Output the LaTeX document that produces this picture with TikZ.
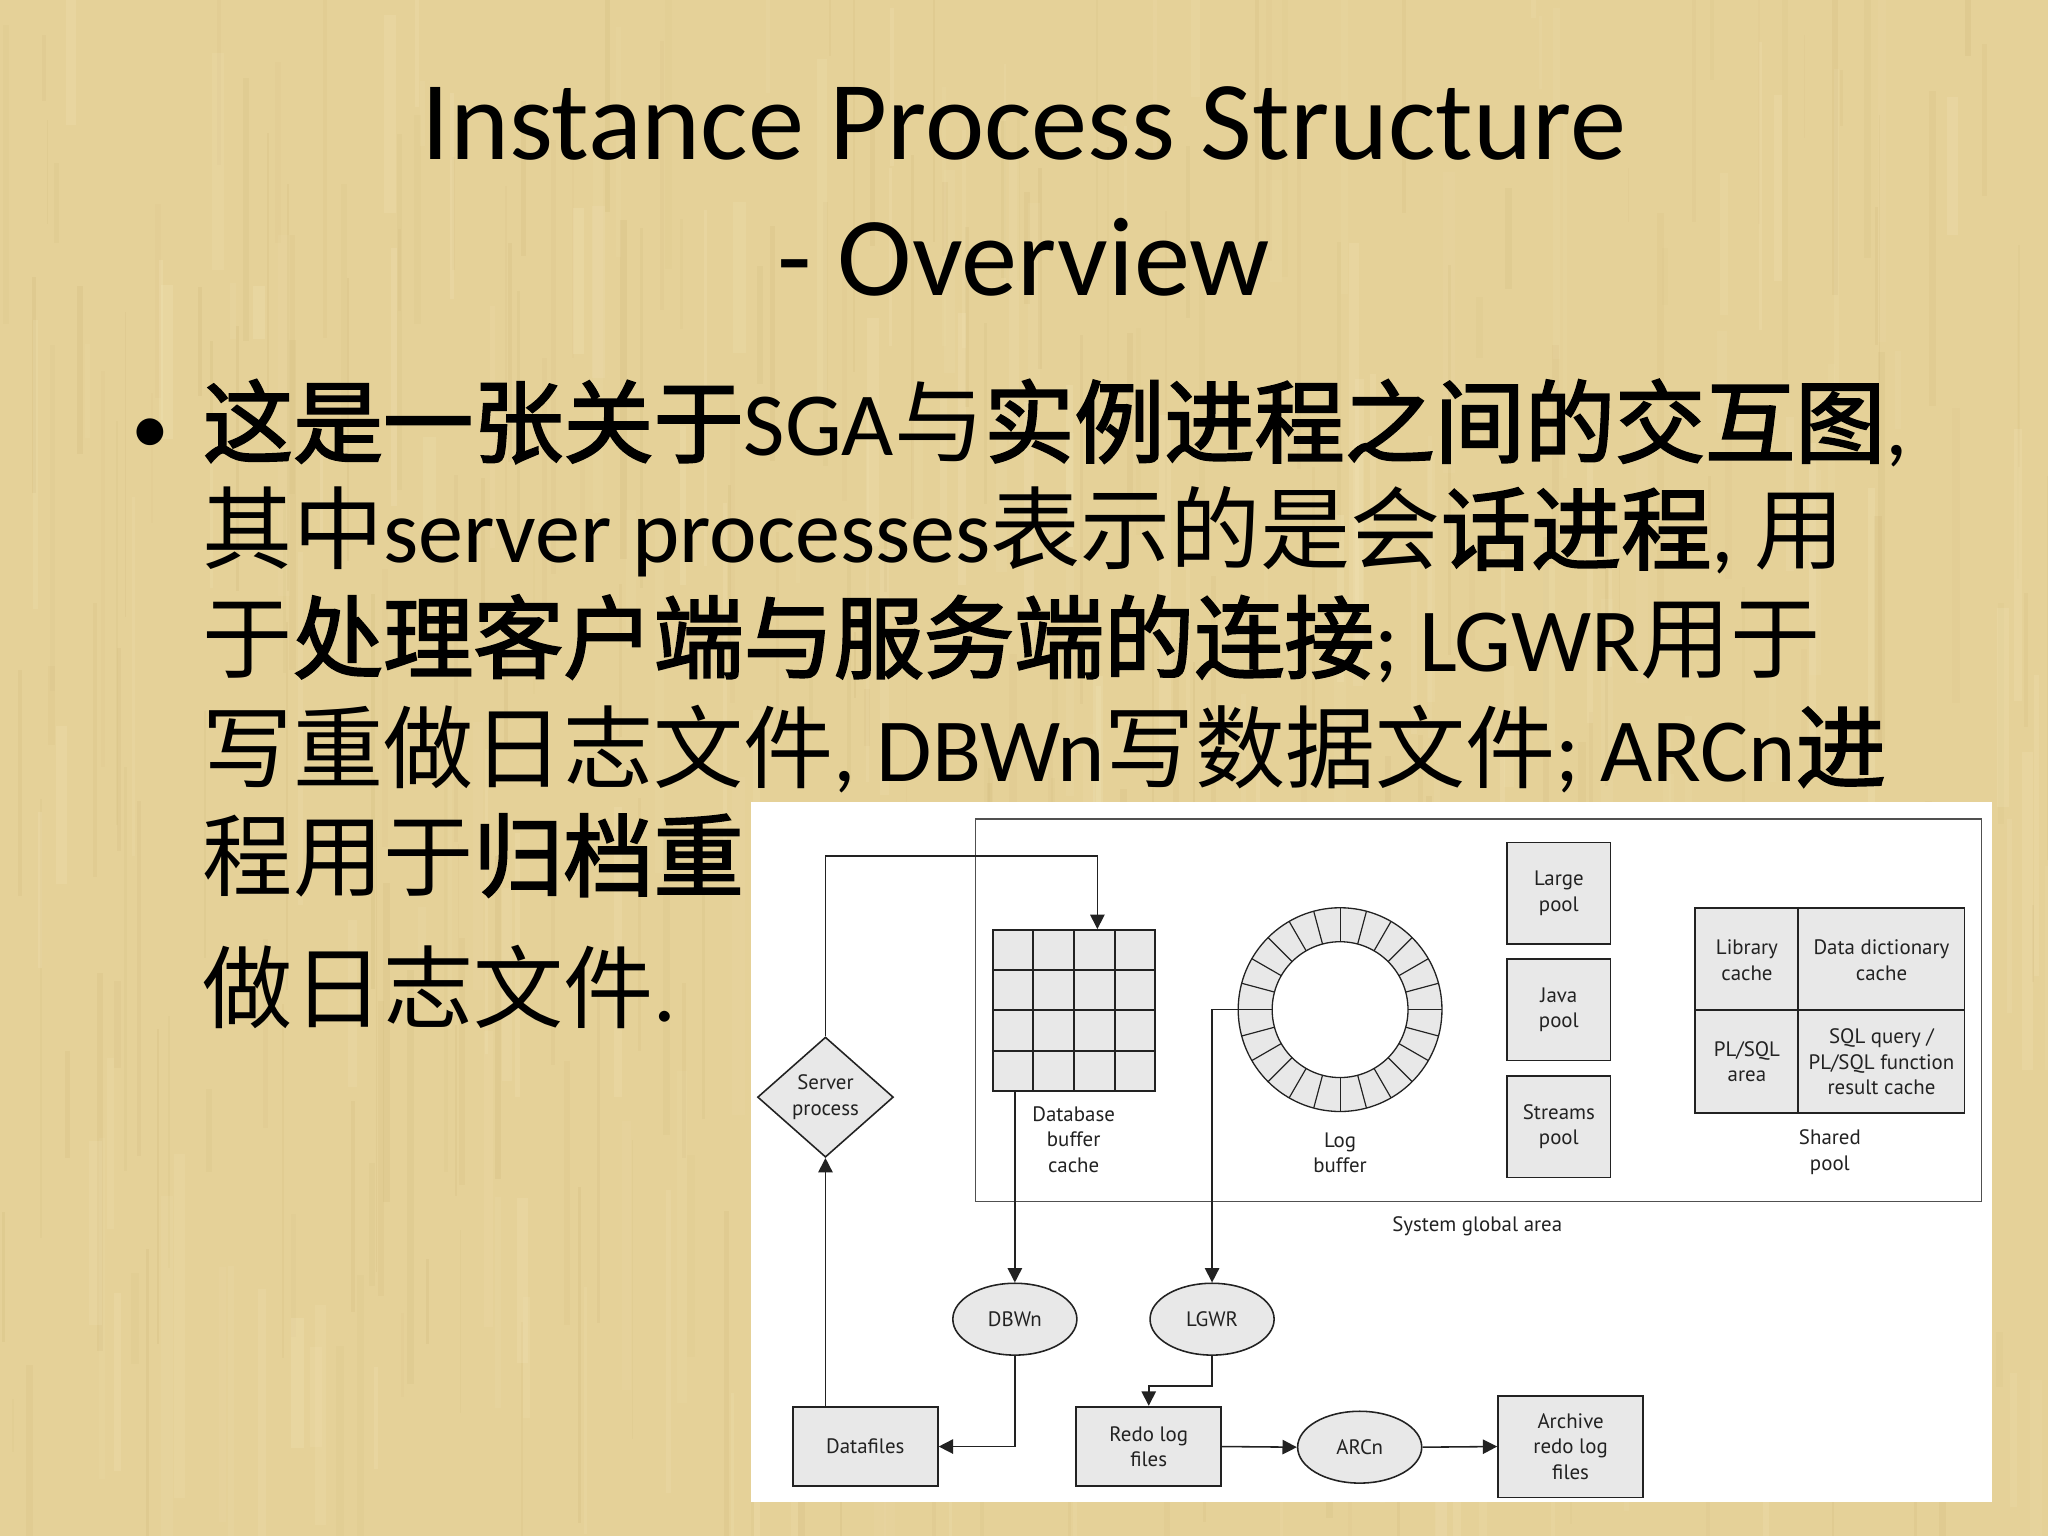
\documentclass[tikz,border=0pt]{standalone}
\usepackage{fontspec}
\setmainfont{Carlito}
\newfontfamily\cjk{Noto Sans CJK SC}[BoldFont={Noto Sans CJK SC},BoldFeatures={FakeBold=2.2}]
\newfontfamily\dfont{PT Sans}
\usetikzlibrary{arrows.meta,shapes.geometric,calc}
\newcommand\zh[1]{{\cjk #1}}
\newcommand\zhb[1]{{\cjk\bfseries #1}}
\definecolor{bgc}{RGB}{229,209,152}
\definecolor{bgdark}{RGB}{196,170,106}
\definecolor{bglight}{RGB}{245,232,190}
\definecolor{boxfill}{RGB}{232,232,232}
\definecolor{linec}{RGB}{34,34,34}
\definecolor{sgac}{RGB}{80,80,80}
\tikzset{
  dtext/.style={font=\dfont\fontsize{8}{9.75}\selectfont, align=center, inner sep=0, text=linec},
  box/.style={draw=linec, fill=boxfill, line width=0.7pt, inner sep=0, dtext},
  proc/.style={ellipse, draw=linec, fill=boxfill, line width=0.6pt, minimum width=47.5pt, minimum height=27.5pt, inner sep=0, dtext},
  arr/.style={draw=linec, line width=0.6pt, -{Triangle[length=5.5pt,width=5.5pt]}},
  bline/.style={font=\fontsize{34.5}{41}\selectfont, anchor=base west, inner sep=0},
  tline/.style={font=\fontsize{43}{52}\selectfont, anchor=base, inner sep=0}
}
\begin{document}
\begin{tikzpicture}[x=0.5pt,y=-0.5pt]
\useasboundingbox (0,0) rectangle (1568,1176);
% background
\fill[bgc] (0,0) rectangle (1568,1176);
\pgfmathsetseed{11}
\foreach \i in {1,...,260}{
  \pgfmathsetmacro\xx{rnd*1568}
  \pgfmathsetmacro\yy{rnd*1176-100}
  \pgfmathsetmacro\ww{1+rnd*5}
  \pgfmathsetmacro\ll{40+rnd*300}
  \pgfmathsetmacro\oo{0.05+0.12*rnd}
  \fill[bgdark,opacity=\oo] (\xx,\yy) rectangle ++(\ww,\ll);
}
\foreach \i in {1,...,200}{
  \pgfmathsetmacro\xx{rnd*1568}
  \pgfmathsetmacro\yy{rnd*1176-100}
  \pgfmathsetmacro\ww{2+rnd*8}
  \pgfmathsetmacro\ll{40+rnd*250}
  \pgfmathsetmacro\oo{0.08+0.15*rnd}
  \fill[bglight,opacity=\oo] (\xx,\yy) rectangle ++(\ww,\ll);
}
% title
\node[tline] (t1) at (784,122) {Instance Process Structure};
\node[tline] (t2) at (784,226) {- Overview};
% bullet text
\node[bline, font=\fontsize{29}{35}\selectfont] (bul) at (100,347) {•};
\node[bline] (l1) at (155,349) {\zhb{这是一张关于}SGA\zh{与}\zhb{实例进程之间的交互图},};
\node[bline] (l2) at (155,431) {\zh{其中}server processes\zh{表示的是会}\zhb{话进程}, \zh{用}};
\node[bline] (l3) at (155,514) {\zh{于}\zhb{处理客户端与服务端的连接}; LGWR\zh{用于}};
\node[bline] (l4) at (155,598) {\zh{写重做日志文件}, DBWn\zh{写数据文件}; ARCn\zhb{进}};
\node[bline] (l5) at (155,681) {\zh{程用于}\zhb{归档重}};
\node[bline] (l6) at (155,782) {\zh{做日志文件}.};
% diagram panel
\fill[white] (575,614) rectangle (1525,1150);
\node[draw=sgac, line width=0.5pt, minimum width=385pt, minimum height=146.5pt, inner sep=0] (sga) at (1132,773.5) {};
\node[dtext] (sgal) at (1131,939) {System global area};
% pools
\node[box, minimum width=39.5pt, minimum height=39pt] (large) at (1193.5,684) {Large\\pool};
\node[box, minimum width=39.5pt, minimum height=39pt] (java) at (1193.5,773) {Java\\pool};
\node[box, minimum width=39.5pt, minimum height=39pt] (streams) at (1193.5,862.5) {Streams\\pool};
% shared pool
\node[box, minimum width=103pt, minimum height=78.5pt] (shp) at (1401,773.5) {};
\draw[linec, line width=0.7pt] ($(shp.north west)!0.383!(shp.north east)$) -- ($(shp.south west)!0.383!(shp.south east)$);
\draw[linec, line width=0.7pt] (shp.west) -- (shp.east);
\node[dtext] (libc) at (1337.5,735) {Library\\cache};
\node[dtext] (ddc) at (1440.5,735) {Data dictionary\\cache};
\node[dtext] (plsql) at (1337.5,813) {PL/SQL\\area};
\node[dtext] (rcache) at (1440.5,813) {SQL query /\\PL/SQL function\\result cache};
\node[dtext] (shpl) at (1401,882) {Shared\\pool};
% database buffer cache
\node[box, minimum width=62pt, minimum height=61.5pt] (dbc) at (822,773.5) {};
\foreach \k in {1,2,3}{
  \draw[linec, line width=0.7pt] ($(dbc.north west)!\k/4!(dbc.north east)$) -- ($(dbc.south west)!\k/4!(dbc.south east)$);
  \draw[linec, line width=0.7pt] ($(dbc.north west)!\k/4!(dbc.south west)$) -- ($(dbc.north east)!\k/4!(dbc.south east)$);
}
\node[dtext] (dbcl) at (822,872.5) {Database\\buffer\\cache};
% log buffer ring
\node[circle, minimum size=78pt, inner sep=0] (ring) at (1026,773) {};
\fill[boxfill, even odd rule] (ring.center) circle[radius=39pt] circle[radius=26pt];
\draw[linec, line width=0.5pt] (ring.center) circle[radius=39pt];
\draw[linec, line width=0.5pt] (ring.center) circle[radius=26pt];
\foreach \a in {0,15,...,345}{
  \draw[linec, line width=0.45pt] (ring.center) ++(\a:26pt) -- ++(\a:13pt);
}
\node[dtext] (ringl) at (1026,882.5) {Log\\buffer};
% server process
\node[diamond, draw=linec, fill=boxfill, line width=0.6pt, aspect=1.13, minimum width=52pt, minimum height=46pt, inner sep=0, dtext] (sp) at (632,840) {Server\\process};
% background processes
\node[proc] (dbwn) at (777,1010) {DBWn};
\node[proc] (lgwr) at (928,1010) {LGWR};
\node[proc] (arcn) at (1041,1108) {ARCn};
% files
\node[box, minimum width=55.5pt, minimum height=30.5pt] (df) at (662.5,1107.5) {Datafiles};
\node[box, minimum width=55.5pt, minimum height=30.5pt] (redo) at (879.5,1107.5) {Redo log\\files};
\node[box, minimum width=55.5pt, minimum height=39pt] (arch) at (1202.5,1107.5) {Archive\\redo log\\files};
% connectors
\coordinate (dbtop) at ($(dbc.north west)!0.645!(dbc.north east)$);
\coordinate (turn) at ($(dbtop)+(0,-56)$);
\draw[arr] (sp.north) |- (turn) -- (dbtop);
\draw[arr] (dbc.south -| dbwn.north) -- (dbwn.north);
\draw[arr] (ring.west) -| (lgwr.north);
\draw[arr] (lgwr.south) -- ++(0,23) -| (redo.north);
\draw[arr] (dbwn.south) |- (df.east);
\draw[arr] (df.north -| sp.south) -- (sp.south);
\draw[arr] (redo.east) -- (arcn.west);
\draw[arr] (arcn.east) -- (arch.west);
\end{tikzpicture}
\end{document}
